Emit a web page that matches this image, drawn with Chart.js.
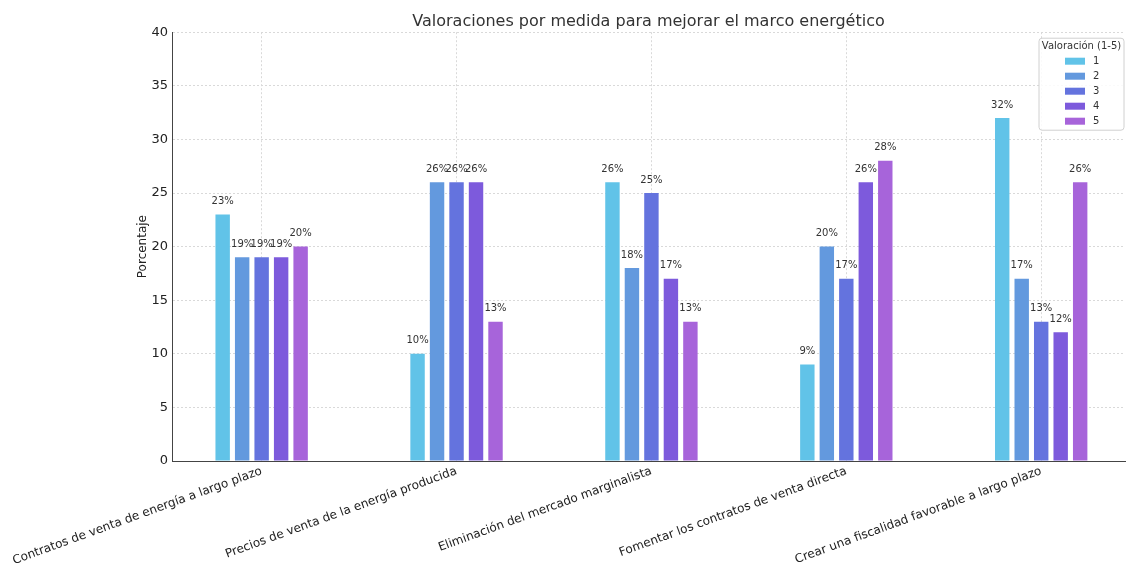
<!DOCTYPE html>
<html>
<head>
<meta charset="utf-8">
<script src="https://cdn.jsdelivr.net/npm/chart.js@4.4.1/dist/chart.umd.min.js"></script>
<style>
  html, body { margin: 0; padding: 0; background: #fff; }
  #wrap { width: 1126px; height: 568px; }
</style>
</head>
<body>
<div id="wrap"><canvas id="c" width="1126" height="568"></canvas></div>
<script>
const categories = [
  "Contratos de venta de energía a largo plazo",
  "Precios de venta de la energía producida",
  "Eliminación del mercado marginalista",
  "Fomentar los contratos de venta directa",
  "Crear una fiscalidad favorable a largo plazo"
];
const ratingLabels = ["1", "2", "3", "4", "5"];
const rating1 = [23, 10, 26, 9, 32];
const rating2 = [19, 26, 18, 20, 17];
const rating3 = [19, 26, 25, 17, 13];
const rating4 = [19, 26, 17, 26, 12];
const rating5 = [20, 13, 13, 28, 26];
const seriesValues = [rating1, rating2, rating3, rating4, rating5];
const colors = ["#61C3E8", "#6399DE", "#6473DE", "#7D5ADC", "#A764DA"];
const yTicks = [0, 5, 10, 15, 20, 25, 30, 35, 40];

const FONT = "'DejaVu Sans', sans-serif";

const datasets = seriesValues.map((vals, s) => ({
  label: ratingLabels[s],
  data: vals.map((v, i) => ({ x: i, y: v })),
  backgroundColor: colors[s],
  borderColor: colors[s],
  borderWidth: 0,
  categoryPercentage: 0.5,
  barPercentage: 0.74
}));

const valueLabels = {
  id: 'valueLabels',
  afterDatasetsDraw(chart) {
    const ctx = chart.ctx;
    ctx.save();
    ctx.font = "10px " + FONT;
    ctx.fillStyle = "#333";
    ctx.textAlign = "center";
    ctx.textBaseline = "bottom";
    chart.data.datasets.forEach((ds, di) => {
      const meta = chart.getDatasetMeta(di);
      meta.data.forEach((el, i) => {
        ctx.fillText(ds.data[i].y + "%", el.x, el.y - 8);
      });
    });
    ctx.restore();
  }
};

const insideLegend = {
  id: 'insideLegend',
  afterDraw(chart) {
    const ctx = chart.ctx;
    const ca = chart.chartArea;
    const w = 85, h = 92;
    const x0 = ca.right - w - 1, y0 = ca.top + 6;
    ctx.save();
    ctx.beginPath();
    if (ctx.roundRect) ctx.roundRect(x0, y0, w, h, 3); else ctx.rect(x0, y0, w, h);
    ctx.fillStyle = "rgba(255,255,255,0.85)";
    ctx.fill();
    ctx.strokeStyle = "#d0d0d0";
    ctx.lineWidth = 1;
    ctx.stroke();
    ctx.font = "10px " + FONT;
    ctx.fillStyle = "#333";
    ctx.textAlign = "center";
    ctx.textBaseline = "middle";
    ctx.fillText("Valoración (1-5)", x0 + w / 2, y0 + 8);
    ctx.textAlign = "left";
    chart.data.datasets.forEach((ds, i) => {
      const cy = y0 + 23 + i * 15;
      ctx.fillStyle = ds.backgroundColor;
      ctx.fillRect(x0 + 26, cy - 3.5, 20, 7);
      ctx.fillStyle = "#333";
      ctx.fillText(ds.label, x0 + 54, cy);
    });
    ctx.restore();
  }
};

new Chart(document.getElementById('c'), {
  type: 'bar',
  data: { datasets },
  options: {
    responsive: false,
    animation: false,
    layout: { padding: { left: 130, right: 1, top: 0, bottom: 0 } },
    plugins: {
      legend: { display: false },
      tooltip: { enabled: false },
      title: {
        display: true,
        text: "Valoraciones por medida para mejorar el marco energético",
        fullSize: false,
        color: "#333",
        font: { family: FONT, size: 16, weight: 'normal' },
        padding: { top: 12, bottom: 1 }
      }
    },
    scales: {
      x: {
        type: 'linear',
        min: -0.46,
        max: 4.43,
        offset: false,
        afterFit: (axis) => { axis.height = 107; axis.paddingLeft = 0; axis.paddingRight = 0; },
        grid: { offset: false, color: "#d9d9d9", drawTicks: false, lineWidth: 1 },
        border: { display: true, color: "#444", width: 1, dash: [2, 2] },
        ticks: {
          stepSize: 1,
          includeBounds: false,
          autoSkip: false,
          maxRotation: 20,
          minRotation: 20,
          padding: 3,
          color: "#222",
          font: { family: FONT, size: 12 },
          callback: (v) => (Number.isInteger(v) && v >= 0 && v < categories.length) ? categories[v] : ''
        }
      },
      y: {
        min: 0,
        max: 40,
        afterFit: (axis) => { axis.width = 42; },
        afterBuildTicks: (axis) => { axis.ticks = yTicks.map(v => ({ value: v })); },
        grid: { color: "#d9d9d9", drawTicks: false, lineWidth: 1 },
        border: { display: true, color: "#444", width: 1, dash: [2, 2] },
        ticks: {
          padding: 4,
          color: "#222",
          font: { family: FONT, size: 13 }
        },
        title: {
          display: true,
          text: "Porcentaje",
          color: "#222",
          font: { family: FONT, size: 12 },
          padding: { top: 6, bottom: 0 }
        }
      }
    }
  },
  plugins: [valueLabels, insideLegend]
});
</script>
</body>
</html>
